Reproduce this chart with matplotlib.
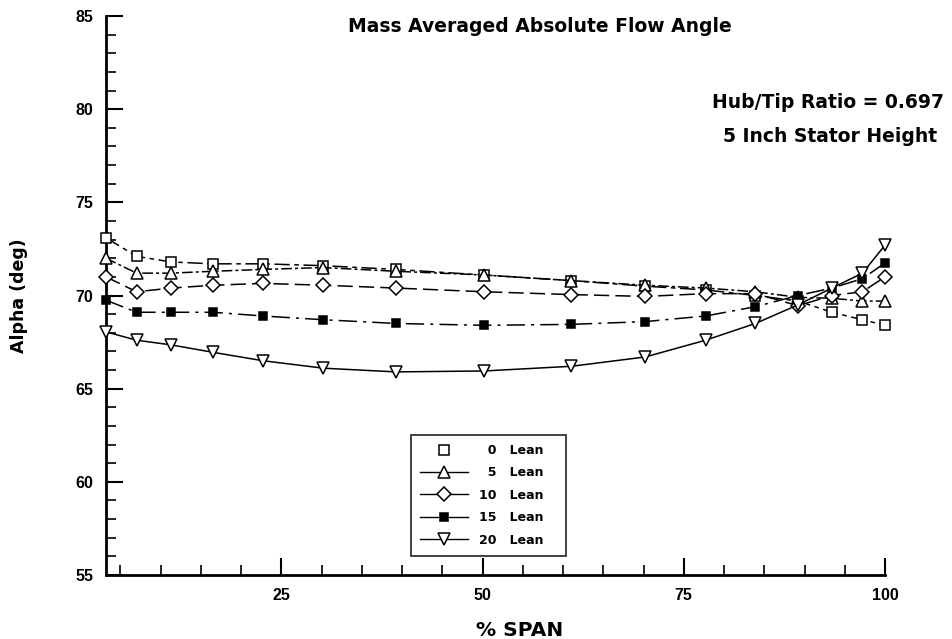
import matplotlib
matplotlib.use('Agg')
import matplotlib.pyplot as plt
from matplotlib.lines import Line2D
from matplotlib.ticker import MultipleLocator

plt.rcParams['font.family'] = ['Liberation Sans', 'DejaVu Sans']

# % span stations (same for every lean case)
span = [3.2, 7.0, 11.3, 16.5, 22.7, 30.2, 39.2, 50.2, 61.0, 70.2,
        77.7, 83.9, 89.2, 93.4, 97.2, 100.0]

# mass averaged absolute flow angle (deg)
alpha_0 = [73.1, 72.1, 71.8, 71.7, 71.7, 71.6, 71.4, 71.1, 70.8, 70.5,
           70.3, 70.0, 69.7, 69.1, 68.7, 68.4]
alpha_5 = [72.0, 71.2, 71.2, 71.3, 71.4, 71.5, 71.3, 71.1, 70.8, 70.55,
           70.4, 70.2, 69.9, 69.85, 69.7, 69.7]
alpha_10 = [71.0, 70.2, 70.4, 70.55, 70.65, 70.55, 70.4, 70.2, 70.05, 69.95,
            70.1, 70.1, 69.45, 70.0, 70.2, 71.0]
alpha_15 = [69.75, 69.1, 69.1, 69.1, 68.9, 68.7, 68.5, 68.4, 68.45, 68.6,
            68.9, 69.4, 70.0, 70.4, 70.9, 71.75]
alpha_20 = [68.05, 67.6, 67.35, 66.95, 66.5, 66.1, 65.9, 65.95, 66.2, 66.7,
            67.6, 68.5, 69.5, 70.4, 71.2, 72.7]

leans = [0, 5, 10, 15, 20]
series = [alpha_0, alpha_5, alpha_10, alpha_15, alpha_20]

# 样式: marker, 填充, 大小, 线型
styles = [
    ('s', 'white', 7, (0, (10, 3, 3, 3))),
    ('^', 'white', 8, (0, (7, 2, 2, 2))),
    ('D', 'white', 7, (0, (10, 4))),
    ('s', 'black', 5.5, (0, (12, 4, 2, 4))),
    ('v', 'white', 8, '-'),
]

fig = plt.figure(figsize=(9.53, 6.39), dpi=100)
ax = fig.add_axes([106 / 953, 64 / 639, 779 / 953, 559 / 639])

handles = []
for lean, vals, (mk, fc, ms, ls) in zip(leans, series, styles):
    ax.plot(span, vals, color='black', linestyle=ls, linewidth=1.1,
            marker=mk, markerfacecolor=fc, markeredgecolor='black',
            markeredgewidth=1.1, markersize=ms, clip_on=False, zorder=3)
    handles.append(Line2D([], [], color='black',
                          linestyle='none' if lean == 0 else '-',
                          linewidth=1.0, marker=mk, markerfacecolor=fc,
                          markeredgecolor='black', markeredgewidth=1.1,
                          markersize=ms))

labels = [f"{'\u2007' if lean < 10 else ''}{lean}   Lean   " for lean in leans]
leg = ax.legend(handles, labels, loc='lower left',
                bbox_to_anchor=(0.3915, 0.034), borderaxespad=0,
                frameon=True, fancybox=False, edgecolor='black',
                handlelength=3.8, handletextpad=0.9, borderpad=0.75,
                labelspacing=0.75,
                prop={'family': 'DejaVu Sans', 'weight': 'bold', 'size': 9})
leg.get_frame().set_linewidth(1.3)

ax.set_xlim(3.2, 100)
ax.set_ylim(55, 85)
ax.xaxis.set_major_locator(MultipleLocator(25))
ax.xaxis.set_minor_locator(MultipleLocator(5))
ax.yaxis.set_major_locator(MultipleLocator(5))
ax.yaxis.set_minor_locator(MultipleLocator(1))
ax.set_xticks([25, 50, 75, 100])
ax.tick_params(which='major', direction='in', length=12, width=1.5,
               labelsize=11.5, pad=9)
ax.tick_params(which='minor', direction='in', length=7, width=1.2)
for lab in ax.get_xticklabels() + ax.get_yticklabels():
    lab.set_fontweight('bold')

ax.spines['top'].set_visible(False)
ax.spines['right'].set_visible(False)
ax.spines['left'].set_linewidth(2)
ax.spines['bottom'].set_linewidth(2)

ax.set_xlabel('% SPAN', fontsize=14.5, fontweight='bold',
              family='DejaVu Sans')
ax.xaxis.set_label_coords((520 - 106) / 779, -0.083)
ax.set_ylabel('Alpha (deg)', fontsize=12.5, fontweight='bold',
              family='DejaVu Sans')
ax.yaxis.set_label_coords(-0.1, 0.5)

fig.text(540 / 953, 1 - 27 / 639, 'Mass Averaged Absolute Flow Angle',
         ha='center', va='center', fontsize=13.5, fontweight='bold',
         family='DejaVu Sans')
fig.text(828 / 953, 1 - 102 / 639, 'Hub/Tip Ratio = 0.697',
         ha='center', va='center', fontsize=13.5, fontweight='bold',
         family='DejaVu Sans')
fig.text(830 / 953, 1 - 136 / 639, '5 Inch Stator Height',
         ha='center', va='center', fontsize=13.5, fontweight='bold',
         family='DejaVu Sans')

fig.savefig('out.png', dpi=100)
